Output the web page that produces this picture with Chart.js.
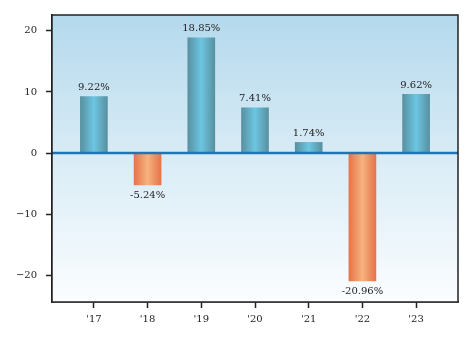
<!DOCTYPE html>
<html>
<head>
<meta charset="utf-8">
<script src="https://cdn.jsdelivr.net/npm/chart.js@4.4.0/dist/chart.umd.min.js"></script>
<style>
  html, body { margin: 0; padding: 0; background: #fff; }
  #wrap { width: 473px; height: 342px; }
</style>
</head>
<body>
<div id="wrap"><canvas id="chart" width="473" height="342"></canvas></div>
<script>
const years = ["'17", "'18", "'19", "'20", "'21", "'22", "'23"];
const returns = [9.22, -5.24, 18.85, 7.41, 1.74, -20.96, 9.62];
const yTicks = [-20, -10, 0, 10, 20];

const FONT = "'DejaVu Serif', serif";

let barFill = (ctx) => {
    let chart = ctx.chart;
    let v = returns[ctx.dataIndex];
    let x = chart.scales.x ? chart.scales.x.getPixelForValue(ctx.dataIndex) : NaN;
    if (!isFinite(x))
        return v >= 0 ? '#63acc2' : '#ef9464';
    let g = chart.ctx.createLinearGradient(x - 13.5, 0, x + 13.5, 0);
    if (v >= 0) {
        g.addColorStop(0, '#5990a0');
        g.addColorStop(0.5, '#6cc6e2');
        g.addColorStop(1, '#5990a0');
    } else {
        g.addColorStop(0, '#e6744a');
        g.addColorStop(0.5, '#f7b27e');
        g.addColorStop(1, '#e6744a');
    }
    return g;
};

const decor = {
    id: 'decor',
    beforeDatasetsDraw(chart) {
        let {ctx, chartArea: a} = chart;
        let g = ctx.createLinearGradient(0, a.top, 0, a.bottom);
        g.addColorStop(0, '#b4d9ed');
        g.addColorStop(0.5, '#d9ecf6');
        g.addColorStop(1, '#fbfdff');
        ctx.save();
        ctx.fillStyle = g;
        ctx.fillRect(a.left, a.top, a.right - a.left, a.bottom - a.top);
        ctx.restore();
    },
    afterDatasetsDraw(chart) {
        let {ctx, chartArea: a, scales} = chart;
        let y0 = scales.y.getPixelForValue(0);
        ctx.save();
        ctx.strokeStyle = '#1f74b5';
        ctx.lineWidth = 2.5;
        ctx.beginPath();
        ctx.moveTo(a.left, y0);
        ctx.lineTo(a.right, y0);
        ctx.stroke();

        ctx.fillStyle = '#222';
        ctx.font = "10px " + FONT;
        ctx.textAlign = 'center';
        chart.getDatasetMeta(0).data.forEach((bar, i) => {
            let v = returns[i];
            if (v >= 0) {
                ctx.textBaseline = 'bottom';
                ctx.fillText(v.toFixed(2) + '%', bar.x, bar.y - 4);
            } else {
                ctx.textBaseline = 'top';
                ctx.fillText(v.toFixed(2) + '%', bar.x, bar.y + 5);
            }
        });

        ctx.strokeStyle = '#222';
        ctx.lineWidth = 1.5;
        ctx.strokeRect(a.left, a.top, a.right - a.left, a.bottom - a.top);
        ctx.restore();
    }
};

new Chart(document.getElementById('chart'), {
    type: 'bar',
    data: {
        datasets: [{
            data: returns.map((v, i) => ({x: i, y: v})),
            backgroundColor: barFill,
            borderWidth: 0,
            barThickness: 27
        }]
    },
    options: {
        responsive: false,
        animation: false,
        layout: {padding: {top: 15, right: 15, left: 0, bottom: 0}},
        plugins: {legend: {display: false}, tooltip: {enabled: false}},
        scales: {
            x: {
                type: 'linear',
                offset: false,
                min: -0.78,
                max: 6.78,
                afterBuildTicks: (s) => { s.ticks = years.map((_, i) => ({value: i})); },
                afterFit: (s) => { s.height = 40; },
                ticks: {
                    color: '#222',
                    font: {family: FONT, size: 10},
                    padding: 5,
                    maxRotation: 0,
                    callback: (v) => years[v]
                },
                grid: {offset: false, drawOnChartArea: false, drawTicks: true, tickLength: 6, tickColor: '#222', tickWidth: 1.5},
                border: {display: true, color: '#222', width: 1.5}
            },
            y: {
                min: -24.4,
                max: 22.6,
                afterBuildTicks: (s) => { s.ticks = yTicks.map((v) => ({value: v})); },
                afterFit: (s) => { s.width = 52; },
                ticks: {
                    color: '#222',
                    font: {family: FONT, size: 10},
                    padding: 9,
                    callback: (v) => (v < 0 ? '\u2212' + Math.abs(v) : String(v))
                },
                grid: {drawOnChartArea: false, drawTicks: true, tickLength: 6, tickColor: '#222', tickWidth: 1.5},
                border: {display: true, color: '#222', width: 1.5}
            }
        }
    },
    plugins: [decor]
});
</script>
</body>
</html>
